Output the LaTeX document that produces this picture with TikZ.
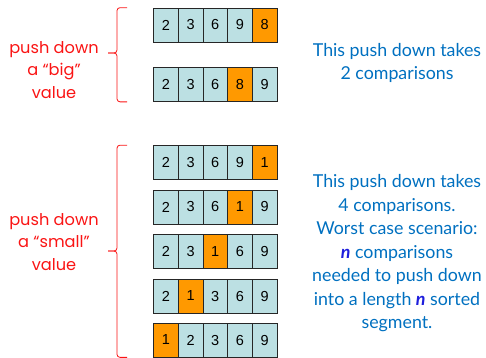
\documentclass[tikz,border=0pt]{standalone}
\usepackage{fontspec}
\setmainfont{Liberation Sans}
\newfontfamily\notefont{Lato}
\newfontfamily\handfont{Poppins}
\usetikzlibrary{positioning}

\definecolor{cellblue}{RGB}{188,224,227}
\definecolor{cellorange}{RGB}{255,153,0}
\definecolor{noteblue}{RGB}{0,112,192}
\definecolor{nblue}{RGB}{30,30,220}
\definecolor{handred}{RGB}{250,20,20}

\tikzset{
	cell/.style={draw=black!85, line width=0.7pt, fill=cellblue, minimum width=24.7pt,
		minimum height=34pt, inner sep=0pt, font=\fontsize{14.5}{14.5}\selectfont},
	hot/.style={fill=cellorange},
	hand/.style={text=handred, align=center, font=\handfont\fontsize{16.2}{22.5}\selectfont},
	note/.style={text=noteblue, align=center, font=\notefont\fontsize{17.8}{23.5}\selectfont},
	curly/.style={handred, line width=0.8pt, rounded corners=3pt}
}
\newcommand{\nvar}{\textcolor{nblue}{\textbf{\textit{n}}}}

\begin{document}
\begin{tikzpicture}[x=1pt, y=-1pt]
	% параметры
	\def\X{153.5} % левый край массивов
	\def\C{24.7}  % ширина ячейки

	\useasboundingbox (0,0) rectangle (486,357);

	% массивы: значения / выделенная ячейка / центр по высоте
	\foreach \vals/\hi/\yy [count=\r] in {
			{2,3,6,9,8}/5/25,
			{2,3,6,8,9}/4/84.5,
			{2,3,6,9,1}/5/162.5,
			{2,3,6,1,9}/4/207,
			{2,3,1,6,9}/3/251.5,
			{2,1,3,6,9}/2/296,
			{1,2,3,6,9}/1/340} {
		\foreach \v [count=\i] in \vals {
			\ifnum\i=\hi
				\node[cell, hot] (r\r-\i) at ({\X+\C*(\i-0.5)}, \yy) {\v};
			\else
				\node[cell] (r\r-\i) at ({\X+\C*(\i-0.5)}, \yy) {\v};
			\fi
		}
	}

	% фигурные скобки
	\coordinate (b1t) at ([xshift=-26pt]r1-1.north west);
	\coordinate (b1b) at ([xshift=-26pt]r2-1.south west);
	\coordinate (b1m) at (108,53);
	\draw[curly] (b1t) -| (117,53) -- (b1m);
	\draw[curly] (b1b) -| (117,53) -- (b1m);

	\coordinate (b2t) at ([xshift=-26pt]r3-1.north west);
	\coordinate (b2b) at ([xshift=-26pt]r7-1.south west);
	\coordinate (b2m) at (108,251);
	\draw[curly] (b2t) -| (117,251) -- (b2m);
	\draw[curly] (b2b) -| (117,251) -- (b2m);

	% подписи слева
	\node[hand] (big) at (54,70) {push down\\a “big”\\value};
	\node[hand] (small) at (54,242) {push down\\a “small”\\value};

	% пояснения справа
	\node[note] (twocmp) at (397,63) {This push down takes\\2 comparisons};
	\node[note] (fourcmp) at (397,253.5) {This push down takes\\4 comparisons.\\Worst case scenario:\\
		\nvar{} comparisons\\needed to push down\\into a length \nvar{} sorted\\segment.};
\end{tikzpicture}
\end{document}
